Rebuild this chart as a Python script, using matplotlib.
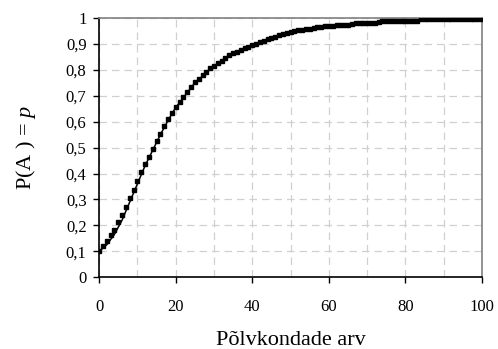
import matplotlib
matplotlib.use('Agg')
import matplotlib.pyplot as plt
from matplotlib.ticker import MultipleLocator, FuncFormatter

# simuleeritud väärtused (markerid), iga põlvkond 0..100
generations = list(range(101))
p_sim = [0.100, 0.120, 0.139, 0.161, 0.181, 0.211, 0.239, 0.269, 0.306, 0.338,
         0.372, 0.407, 0.436, 0.465, 0.494, 0.525, 0.553, 0.583, 0.609, 0.632,
         0.655, 0.677, 0.696, 0.716, 0.735, 0.752, 0.766, 0.780, 0.793, 0.806,
         0.816, 0.825, 0.834, 0.848, 0.857, 0.864, 0.870, 0.876, 0.883, 0.889,
         0.896, 0.900, 0.906, 0.912, 0.919, 0.924, 0.928, 0.933, 0.937, 0.942,
         0.947, 0.950, 0.953, 0.955, 0.957, 0.960, 0.962, 0.965, 0.966, 0.968,
         0.970, 0.971, 0.973, 0.975, 0.975, 0.975, 0.976, 0.982, 0.982, 0.982,
         0.983, 0.983, 0.983, 0.984, 0.988, 0.988, 0.988, 0.988, 0.988, 0.988,
         0.988, 0.988, 0.988, 0.988, 0.997, 0.997, 0.997, 0.997, 0.997, 0.997,
         0.997, 0.997, 0.997, 0.997, 0.997, 0.997, 0.997, 0.997, 0.997, 0.997,
         0.997]

# teoreetiline kõver
x_theory = [0, 2, 4, 6, 8, 10, 12, 14, 16, 18, 20, 25, 30, 35, 40, 45, 50,
            60, 70, 80, 90, 100]
p_theory = [0.100, 0.125, 0.165, 0.220, 0.290, 0.360, 0.430, 0.490, 0.550,
            0.605, 0.655, 0.750, 0.815, 0.862, 0.895, 0.925, 0.945, 0.970,
            0.982, 0.990, 0.997, 1.000]

plt.rcParams['font.family'] = ['Liberation Serif', 'DejaVu Serif']
plt.rcParams['mathtext.fontset'] = 'custom'
plt.rcParams['mathtext.it'] = 'Liberation Serif:italic'
plt.rcParams['mathtext.rm'] = 'Liberation Serif'

fig = plt.figure(figsize=(4.98, 3.49), dpi=100)
ax = fig.add_axes([0.199, 0.206, 0.769, 0.742])

ax.plot(x_theory, p_theory, color='black', linewidth=1.1, zorder=3)
ax.plot(generations, p_sim, linestyle='none', marker='s', markersize=2.5,
        color='black', zorder=4)

ax.set_xlim(0, 100)
ax.set_ylim(0, 1)
ax.xaxis.set_major_locator(MultipleLocator(20))
ax.xaxis.set_minor_locator(MultipleLocator(10))
ax.yaxis.set_major_locator(MultipleLocator(0.1))


def comma_fmt(v, pos):
    s = f'{v:.1f}'
    if s.endswith('.0'):
        s = s[:-2]
    return s.replace('.', ',')


ax.yaxis.set_major_formatter(FuncFormatter(comma_fmt))

ax.grid(True, which='both', axis='x', color='#d0d0d0', linestyle=(0, (6, 4)),
        linewidth=0.9)
ax.grid(True, which='major', axis='y', color='#d0d0d0', linestyle=(0, (6, 4)),
        linewidth=0.9)
ax.set_axisbelow(True)

ax.tick_params(axis='both', which='major', direction='out', length=4,
               width=1, labelsize=12, color='black')
ax.tick_params(axis='x', which='minor', length=0)
ax.tick_params(axis='x', pad=12)
ax.tick_params(axis='y', pad=5)

for side in ('left', 'bottom'):
    ax.spines[side].set_color('black')
    ax.spines[side].set_linewidth(1.2)
for side in ('top', 'right'):
    ax.spines[side].set_color('#808080')
    ax.spines[side].set_linewidth(1.2)

ax.set_xlabel('Põlvkondade arv', fontsize=16, labelpad=11)
ax.set_ylabel('P(A ) = $\\it{p}$', fontsize=16, labelpad=20)

fig.savefig('out.png', dpi=100)
